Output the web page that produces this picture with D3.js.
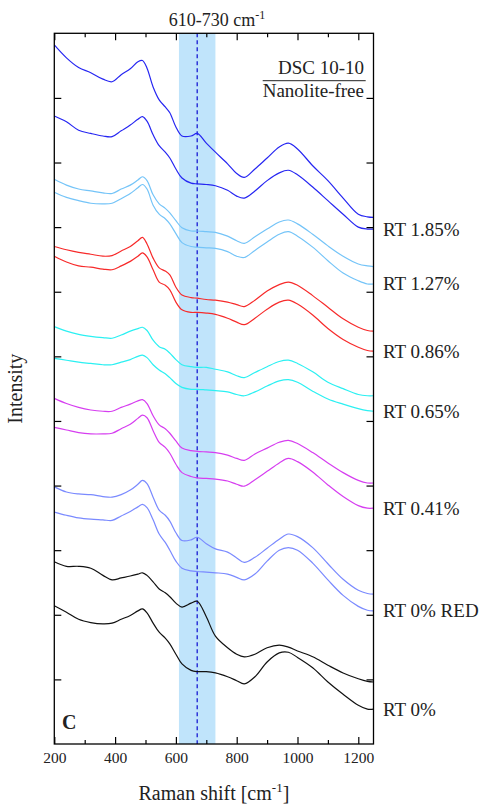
<!DOCTYPE html>
<html>
<head>
<meta charset="utf-8">
<script src="https://cdn.jsdelivr.net/npm/d3@7"></script>
<style>
  html, body { margin: 0; padding: 0; background: #fff; }
  svg { display: block; }
  text { font-family: "Liberation Serif", "Times New Roman", serif; fill: #222; }
</style>
</head>
<body>
<svg id="chart" width="487" height="810"></svg>
<script>
// Raman shift positions (cm^-1) shared by every spectrum
const ramanShift = [200,240,280,320,360,390,420,450,475,490,505,525,545,565,580,600,620,650,670,700,730,770,800,825,860,900,940,970,1000,1050,1100,1150,1200,1230,1250];

// Stacked, offset intensities (arbitrary units), two spectra per sample
const rt185a = [10.82,10.62,10.47,10.39,10.29,10.25,10.36,10.45,10.56,10.58,10.46,10.17,9.97,9.86,9.77,9.55,9.41,9.41,9.45,9.30,9.16,8.98,8.83,8.77,8.90,9.07,9.24,9.30,9.21,8.95,8.72,8.45,8.20,8.16,8.15];
const rt185b = [9.72,9.63,9.50,9.45,9.41,9.40,9.49,9.58,9.67,9.71,9.64,9.43,9.26,9.16,9.07,8.90,8.76,8.68,8.67,8.66,8.64,8.57,8.48,8.45,8.56,8.72,8.84,8.88,8.81,8.62,8.41,8.20,8.00,7.97,7.97];
const rt127a = [8.74,8.65,8.59,8.56,8.53,8.52,8.59,8.65,8.73,8.78,8.72,8.50,8.36,8.29,8.22,8.10,7.99,7.94,7.94,7.93,7.92,7.86,7.79,7.75,7.85,7.97,8.08,8.11,8.05,7.89,7.71,7.55,7.43,7.40,7.39];
const rt127b = [8.54,8.46,8.41,8.37,8.36,8.37,8.44,8.52,8.61,8.66,8.59,8.34,8.20,8.13,8.05,7.90,7.76,7.70,7.69,7.68,7.67,7.62,7.55,7.53,7.64,7.77,7.89,7.93,7.86,7.69,7.48,7.29,7.17,7.12,7.12];
const rt086a = [7.70,7.65,7.61,7.58,7.55,7.56,7.63,7.70,7.79,7.84,7.74,7.52,7.37,7.32,7.26,7.07,6.95,6.91,6.90,6.88,6.87,6.84,6.80,6.77,6.87,7.01,7.11,7.15,7.10,6.94,6.76,6.58,6.45,6.40,6.39];
const rt086b = [7.55,7.46,7.40,7.38,7.35,7.34,7.40,7.47,7.55,7.60,7.54,7.34,7.15,7.10,7.03,6.84,6.72,6.68,6.68,6.67,6.65,6.59,6.53,6.49,6.59,6.73,6.84,6.87,6.81,6.64,6.43,6.26,6.14,6.09,6.08];
const rt065a = [6.46,6.39,6.34,6.31,6.29,6.28,6.33,6.39,6.43,6.45,6.40,6.25,6.15,6.11,6.05,5.95,5.87,5.84,5.83,5.83,5.80,5.76,5.70,5.67,5.75,5.84,5.92,5.94,5.89,5.76,5.60,5.50,5.41,5.39,5.39];
const rt065b = [5.97,5.94,5.91,5.89,5.87,5.87,5.91,5.95,6.00,6.02,5.98,5.87,5.79,5.73,5.67,5.58,5.52,5.49,5.49,5.48,5.47,5.45,5.41,5.39,5.45,5.54,5.62,5.64,5.60,5.46,5.34,5.26,5.19,5.16,5.15];
const rt041a = [5.35,5.27,5.21,5.17,5.15,5.15,5.21,5.26,5.31,5.33,5.27,5.08,4.94,4.88,4.81,4.69,4.58,4.54,4.53,4.52,4.51,4.47,4.42,4.39,4.49,4.58,4.67,4.70,4.65,4.51,4.35,4.20,4.08,4.04,4.04];
const rt041b = [4.90,4.86,4.82,4.80,4.80,4.81,4.88,4.95,5.04,5.09,5.05,4.85,4.67,4.59,4.50,4.33,4.20,4.14,4.12,4.11,4.10,4.07,4.02,3.99,4.09,4.22,4.35,4.42,4.37,4.21,4.01,3.83,3.69,3.65,3.65];
const rt0redA = [3.98,3.90,3.87,3.86,3.83,3.82,3.86,3.93,4.02,4.08,4.03,3.82,3.62,3.54,3.45,3.27,3.15,3.16,3.20,3.10,3.02,2.97,2.88,2.81,2.89,3.03,3.17,3.25,3.21,3.04,2.79,2.55,2.38,2.33,2.32];
const rt0redB = [3.59,3.54,3.50,3.48,3.47,3.46,3.53,3.60,3.67,3.71,3.66,3.47,3.25,3.12,3.00,2.83,2.72,2.68,2.67,2.66,2.65,2.63,2.58,2.54,2.63,2.83,3.00,3.04,3.00,2.80,2.54,2.30,2.13,2.07,2.06];
const rt0a = [2.82,2.75,2.75,2.72,2.61,2.54,2.57,2.60,2.63,2.65,2.61,2.51,2.40,2.34,2.28,2.18,2.12,2.18,2.21,1.97,1.67,1.49,1.39,1.35,1.39,1.49,1.53,1.50,1.44,1.35,1.22,1.10,1.01,0.97,0.96];
const rt0b = [2.14,2.04,1.93,1.88,1.86,1.87,1.93,1.99,2.06,2.09,2.03,1.87,1.73,1.64,1.55,1.39,1.24,1.14,1.12,1.12,1.10,1.04,0.98,0.93,1.04,1.27,1.41,1.42,1.34,1.18,0.96,0.77,0.60,0.54,0.54];

// Sample labels and their spectra pairs
const sampleLabels = ["RT 1.85%", "RT 1.27%", "RT 0.86%", "RT 0.65%", "RT 0.41%", "RT 0% RED", "RT 0%"];
const samplePairs = [[rt185a, rt185b], [rt127a, rt127b], [rt086a, rt086b], [rt065a, rt065b], [rt041a, rt041b], [rt0redA, rt0redB], [rt0a, rt0b]];

// Highlighted band and its centre line (cm^-1)
const bandRange = [610, 730];
const bandCentre = 670;

// Axis ticks
const xMajorTicks = [200, 400, 600, 800, 1000, 1200];
const xMinorTicks = [300, 500, 700, 900, 1100];
const yTicks = [1, 2, 3, 4, 5, 6, 7, 8, 9, 10];

// Styling
const sampleColors = ["#2626f2", "#74c4f8", "#f72a2a", "#2cf0f2", "#d63ef0", "#7a8aff", "#111111"];

const svg = d3.select("#chart");
const plot = { left: 54.3, right: 373.5, top: 33.3, bottom: 744 };

const x = d3.scaleLinear().domain([200, 1250]).range([plot.left, plot.right]);
const y = d3.scaleLinear().domain([0, 11]).range([plot.bottom, plot.top]);

// Shaded band and dashed centre line
svg.append("rect")
  .attr("x", x(bandRange[0]))
  .attr("y", plot.top)
  .attr("width", x(bandRange[1]) - x(bandRange[0]))
  .attr("height", plot.bottom - plot.top)
  .attr("fill", "#c0e4fb");

svg.append("line")
  .attr("x1", x(bandCentre)).attr("x2", x(bandCentre))
  .attr("y1", plot.top).attr("y2", plot.bottom)
  .attr("stroke", "#0a0ad0")
  .attr("stroke-width", 1.2)
  .attr("stroke-dasharray", "4,3");

// Spectra
const line = d3.line()
  .x((d, i) => x(ramanShift[i]))
  .y(d => y(d))
  .curve(d3.curveCatmullRom.alpha(0.5));

samplePairs.forEach((pair, k) => {
  pair.forEach(series => {
    svg.append("path")
      .attr("d", line(series))
      .attr("fill", "none")
      .attr("stroke", sampleColors[k])
      .attr("stroke-width", 1.2)
      .attr("stroke-linejoin", "round");
  });
});

// Axes: ticks drawn inward on all four sides
const axisStyle = g => {
  g.select(".domain").remove();
  g.selectAll(".tick line").attr("stroke", "#000").attr("stroke-width", 1.2);
};

svg.append("g")
  .attr("transform", `translate(0,${plot.bottom})`)
  .call(d3.axisBottom(x).tickValues(xMajorTicks).tickSize(-7).tickFormat(d3.format("d")))
  .call(axisStyle)
  .call(g => g.selectAll(".tick text")
    .attr("y", 18.5).attr("dy", 0)
    .attr("fill", "#222")
    .style("font-family", "Liberation Serif, serif")
    .style("font-size", "15.5px"));

svg.append("g")
  .attr("transform", `translate(0,${plot.bottom})`)
  .call(d3.axisBottom(x).tickValues(xMinorTicks).tickSize(-4).tickFormat(""))
  .call(axisStyle);

svg.append("g")
  .attr("transform", `translate(0,${plot.top})`)
  .call(d3.axisTop(x).tickValues(xMajorTicks).tickSize(-7).tickFormat(""))
  .call(axisStyle);

svg.append("g")
  .attr("transform", `translate(0,${plot.top})`)
  .call(d3.axisTop(x).tickValues(xMinorTicks).tickSize(-4).tickFormat(""))
  .call(axisStyle);

svg.append("g")
  .attr("transform", `translate(${plot.left},0)`)
  .call(d3.axisLeft(y).tickValues(yTicks).tickSize(-7).tickFormat(""))
  .call(axisStyle);

svg.append("g")
  .attr("transform", `translate(${plot.right},0)`)
  .call(d3.axisRight(y).tickValues(yTicks).tickSize(-7).tickFormat(""))
  .call(axisStyle);

// Frame
svg.append("rect")
  .attr("x", plot.left).attr("y", plot.top)
  .attr("width", plot.right - plot.left)
  .attr("height", plot.bottom - plot.top)
  .attr("fill", "none")
  .attr("stroke", "#000")
  .attr("stroke-width", 1.3);

// Sample labels beside the lower spectrum of each pair
samplePairs.forEach((pair, k) => {
  const last = pair[1][pair[1].length - 1];
  svg.append("text")
    .attr("x", 383)
    .attr("y", y(last) + 6.5)
    .style("font-size", "19px")
    .text(sampleLabels[k]);
});

// Band title
const title = svg.append("text")
  .attr("x", 217).attr("y", 26)
  .attr("text-anchor", "middle")
  .style("font-size", "18px");
title.append("tspan").text("610-730 cm");
title.append("tspan").attr("dy", -7).style("font-size", "12px").text("-1");

// Sample set legend
svg.append("text")
  .attr("x", 364).attr("y", 74)
  .attr("text-anchor", "end")
  .style("font-size", "19px")
  .text("DSC 10-10");
svg.append("line")
  .attr("x1", 262.7).attr("x2", 365.7)
  .attr("y1", 80.7).attr("y2", 80.7)
  .attr("stroke", "#222").attr("stroke-width", 1);
svg.append("text")
  .attr("x", 364).attr("y", 96.7)
  .attr("text-anchor", "end")
  .style("font-size", "19px")
  .text("Nanolite-free");

// Panel letter
svg.append("text")
  .attr("x", 62).attr("y", 729)
  .style("font-size", "20px")
  .style("font-weight", "bold")
  .text("C");

// Axis titles
const xTitle = svg.append("text")
  .attr("x", (plot.left + plot.right) / 2).attr("y", 800)
  .attr("text-anchor", "middle")
  .style("font-size", "20px");
xTitle.append("tspan").text("Raman shift [cm");
xTitle.append("tspan").attr("dy", -8).style("font-size", "13px").text("-1");
xTitle.append("tspan").attr("dy", 8).text("]");

svg.append("text")
  .attr("transform", `translate(22,${(plot.top + plot.bottom) / 2}) rotate(-90)`)
  .attr("text-anchor", "middle")
  .style("font-size", "20px")
  .text("Intensity");
</script>
</body>
</html>
